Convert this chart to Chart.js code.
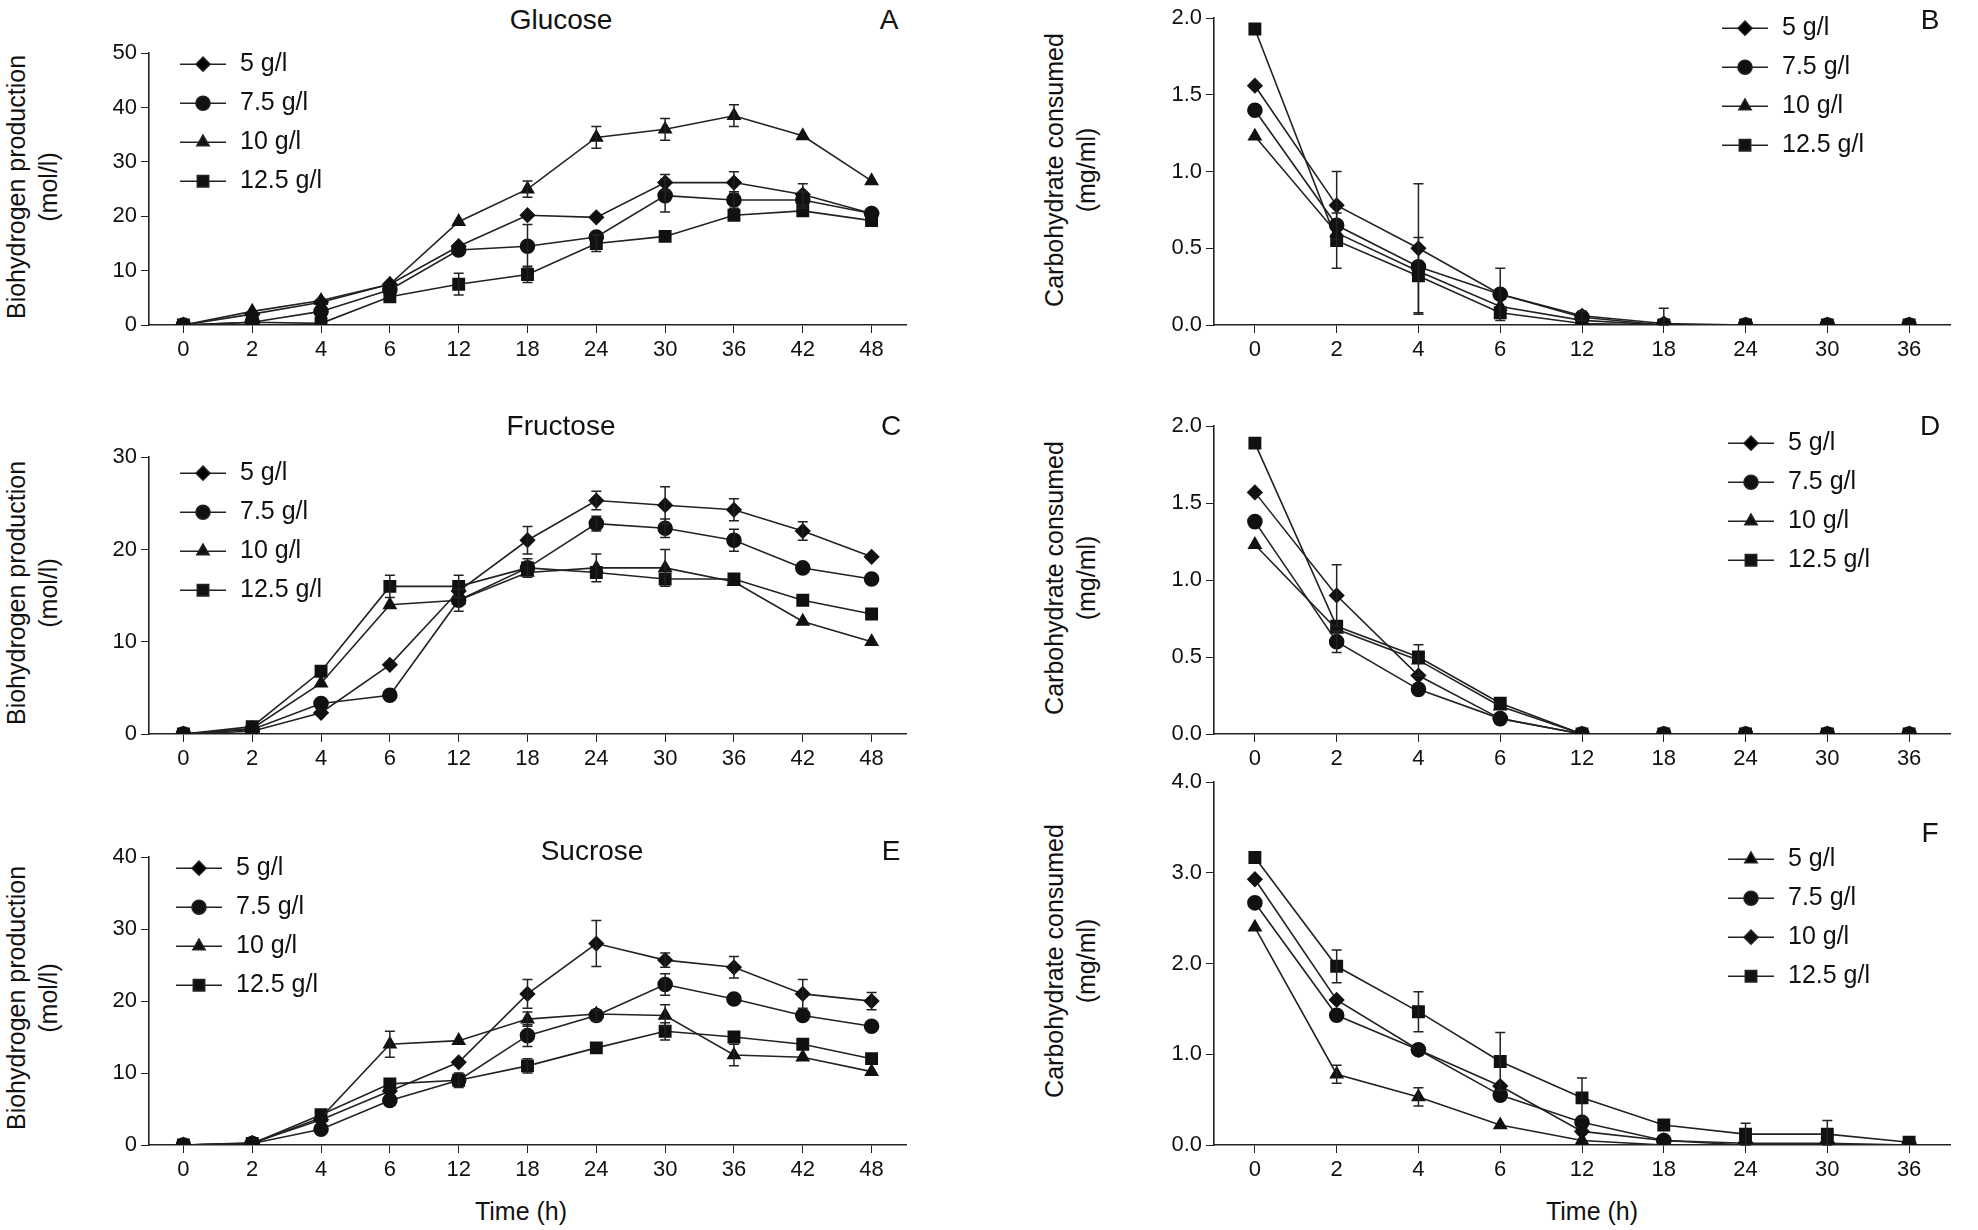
<!DOCTYPE html>
<html><head><meta charset="utf-8">
<script src="https://cdn.jsdelivr.net/npm/chart.js@4/dist/chart.umd.min.js"></script>
<style>
body{margin:0;background:#fff;width:1978px;height:1230px;position:relative;overflow:hidden;font-family:"Liberation Sans",Arial,sans-serif;color:#111}
canvas{position:absolute}
.t{position:absolute;font-size:28px;transform:translate(-50%,-50%);white-space:nowrap}
.yt{position:absolute;font-size:25px;transform:translate(-50%,-50%) rotate(-90deg);white-space:nowrap}
</style></head><body>
<script>
const hoursLong=['0','2','4','6','12','18','24','30','36','42','48'];
const hoursShort=['0','2','4','6','12','18','24','30','36'];
const seriesNames=['5 g/l','7.5 g/l','10 g/l','12.5 g/l'];
// A Glucose production
const A5=[0,2.0,4.2,7.5,14.5,20.2,19.8,26.2,26.2,24,20.5];
const A75=[0,0.5,2.5,6.5,13.8,14.5,16.2,23.8,23,23,20.5];
const A10=[0,2.5,4.5,7.5,19,25,34.5,36,38.5,34.8,26.5];
const A125=[0,0.5,0.3,5.2,7.5,9.3,15,16.3,20.2,21,19.2];
const A5e=[0,0,0,0,0,0,0,1.5,2,2,0];
const A75e=[0,0,0,0,0,4,0,3,1.5,1.5,0];
const A10e=[0,0,0,0,0,1.5,2,2,2,0,0];
const A125e=[0,0,0,0,2,1.5,1.5,0,0,0,0];
// B Glucose consumption
const B5=[1.56,0.78,0.5,0.2,0.06,0.01,0,0,0];
const B75=[1.4,0.65,0.38,0.2,0.05,0,0,0,0];
const B10=[1.23,0.6,0.35,0.12,0.03,0,0,0,0];
const B125=[1.93,0.55,0.32,0.08,0.01,0,0,0,0];
const B5e=[0,0.22,0.42,0.17,0.03,0.1,0,0,0];
const B125e=[0,0.18,0.25,0,0,0,0,0,0];
// C Fructose production
const C5=[0,0.3,2.3,7.5,15.5,21,25.3,24.8,24.3,22,19.2];
const C75=[0,0.5,3.3,4.2,14.5,18,22.8,22.3,21,18,16.8];
const C10=[0,0.6,5.5,14,14.5,17.5,18,18,16.5,12.2,10];
const C125=[0,0.8,6.8,16,16,18,17.5,16.8,16.8,14.5,13];
const C5e=[0,0,0,0,0,1.5,1,2,1.2,1,0];
const C75e=[0,0,0,0,1.2,0,0.8,1,1.2,0,0];
const C10e=[0,0,0,0,0,0,1.5,2,0,0,0];
const C125e=[0,0,0,1.2,1.2,1,0,0,0,0,0];
// D Fructose consumption
const D5=[1.57,0.9,0.38,0.1,0,0,0,0,0];
const D75=[1.38,0.6,0.29,0.1,0,0,0,0,0];
const D10=[1.23,0.68,0.48,0.18,0,0,0,0,0];
const D125=[1.89,0.7,0.5,0.2,0,0,0,0,0];
const D5e=[0,0.2,0,0,0,0,0,0,0];
const D75e=[0,0.07,0,0,0,0,0,0,0];
const D10e=[0,0,0.1,0,0,0,0,0,0];
// E Sucrose production
const E5=[0,0.3,3.5,7.5,11.5,21,28,25.7,24.7,21,20];
const E75=[0,0.2,2.2,6.2,9,15.2,18,22.3,20.3,18,16.5];
const E10=[0,0.2,3.8,14,14.5,17.5,18.2,18,12.5,12.2,10.2];
const E125=[0,0.2,4.2,8.5,9,11,13.5,15.8,15,14,12];
const E5e=[0,0,0,0,0,2,3.2,1,1.5,2,1.2];
const E75e=[0,0,0,0,0,1.5,0.8,1.5,0,0,0];
const E10e=[0,0,0,1.8,0,1,0,1.5,1.5,0,0];
const E125e=[0,0,0,0,1,1,0,1.2,0,0,0];
// F Sucrose consumption
const F5=[2.4,0.78,0.53,0.22,0.05,0,0,0,0];
const F75=[2.67,1.43,1.05,0.55,0.25,0.05,0,0,0];
const F10=[2.93,1.6,1.05,0.65,0.15,0.05,0.02,0.02,0];
const F125=[3.17,1.97,1.47,0.92,0.52,0.22,0.12,0.12,0.03];
const F5e=[0,0.1,0.1,0,0,0,0,0,0];
const F125e=[0,0.18,0.22,0.32,0.22,0,0.12,0.15,0];
const Z=null;

const errPlugin={id:'err',afterDatasetsDraw(c){const ctx=c.ctx;ctx.save();ctx.strokeStyle='#222';ctx.lineWidth=1.5;
c.data.datasets.forEach((ds,i)=>{if(!ds.err)return;const m=c.getDatasetMeta(i);const ys=c.scales.y;
ds.err.forEach((e,j)=>{if(!e)return;const p=m.data[j];const y1=ys.getPixelForValue(ds.data[j]+e),y2=ys.getPixelForValue(Math.max(0,ds.data[j]-e));
ctx.beginPath();ctx.moveTo(p.x,y1);ctx.lineTo(p.x,y2);ctx.moveTo(p.x-5,y1);ctx.lineTo(p.x+5,y1);ctx.moveTo(p.x-5,y2);ctx.lineTo(p.x+5,y2);ctx.stroke();});});ctx.restore();}};
const legPlugin={id:'leg',afterDraw(c,a,o){const ctx=c.ctx;const ca=c.chartArea;ctx.save();
c.data.datasets.forEach((ds,i)=>{const x=ca.left+o.x,y=ca.top+o.y+i*39;ctx.strokeStyle='#222';ctx.lineWidth=1.6;
ctx.beginPath();ctx.moveTo(x,y);ctx.lineTo(x+46,y);ctx.stroke();
Chart.helpers.drawPoint(ctx,{pointStyle:ds.pointStyle,radius:ds.pointRadius,rotation:0,borderWidth:1},x+23,y);
ctx.fillStyle='#111';ctx.font='25px "Liberation Sans", Arial';ctx.textBaseline='middle';ctx.fillText(ds.label,x+60,y);});ctx.restore();}};

const styles=['rectRot','circle','triangle','rect'];
function mk(id,box,labels,vals,errs,ymax,step,dec,leg,order){
  const cv=document.createElement('canvas');cv.id=id;
  const left=box.L-55,top=box.T-12,w=box.R-left+12,h=box.B-top+40;
  cv.style.left=left+'px';cv.style.top=top+'px';cv.style.width=w+'px';cv.style.height=h+'px';
  cv.width=w;cv.height=h;document.body.appendChild(cv);
  const st=order||styles;
  new Chart(cv,{type:'line',plugins:[errPlugin,legPlugin],data:{labels,datasets:vals.map((v,i)=>({label:seriesNames[i],data:v,err:errs[i],
    borderColor:'#222',backgroundColor:'#111',pointBackgroundColor:'#111',pointBorderColor:'#111',borderWidth:1.6,
    pointStyle:st[i],pointRadius:st[i]==='rectRot'?7:st[i]==='rect'?8:7,tension:0}))},
   options:{responsive:false,animation:false,layout:{padding:{top:12,right:12,left:0,bottom:0}},
    plugins:{legend:{display:false},tooltip:{enabled:false},leg:leg},
    scales:{x:{offset:true,grid:{offset:false,drawOnChartArea:false,drawTicks:true,tickLength:8,color:'#222'},border:{color:'#222',width:1.6},
      ticks:{color:'#111',font:{size:22,family:'"Liberation Sans", Arial'},padding:4},afterFit(s){s.height=40;}},
     y:{min:0,max:ymax,grid:{drawOnChartArea:false,tickLength:8,color:'#222'},border:{color:'#222',width:1.6},
      ticks:{stepSize:step,color:'#111',font:{size:22,family:'"Liberation Sans", Arial'},padding:4,callback:v=>v.toFixed(dec)},afterFit(s){s.width=55;}}}}});
}
mk('a',{L:149,R:906,T:48,B:325},hoursLong,[A5,A75,A10,A125],[A5e,A75e,A10e,A125e],50,10,0,{x:31,y:11});
mk('b',{L:1214,R:1950,T:13,B:325},hoursShort,[B5,B75,B10,B125],[B5e,Z,Z,B125e],2.0,0.5,1,{x:508,y:10});
mk('c',{L:149,R:906,T:452,B:734},hoursLong,[C5,C75,C10,C125],[C5e,C75e,C10e,C125e],30,10,0,{x:31,y:16});
mk('d',{L:1214,R:1950,T:421,B:734},hoursShort,[D5,D75,D10,D125],[D5e,D75e,D10e,Z],2.0,0.5,1,{x:514,y:17});
mk('e',{L:149,R:906,T:852,B:1145},hoursLong,[E5,E75,E10,E125],[E5e,E75e,E10e,E125e],40,10,0,{x:27,y:11});
mk('f',{L:1214,R:1950,T:777,B:1145},hoursShort,[F5,F75,F10,F125],[F5e,Z,Z,F125e],4.0,1.0,1,{x:514,y:77},['triangle','circle','rectRot','rect']);
const texts=[['Glucose',561,20],['A',889,20],['B',1930,20],['Fructose',561,426],['C',891,426],['D',1930,426],['Sucrose',592,851],['E',891,851],['F',1930,833],['Time (h)',521,1211],['Time (h)',1592,1211]];
texts.forEach(([s,x,y])=>{const d=document.createElement('div');d.className='t';d.textContent=s;d.style.left=x+'px';d.style.top=y+'px';if(s==='Time (h)')d.style.fontSize='25px';document.body.appendChild(d);});
const yts=[['Biohydrogen production',16,187],['(mol/l)',48,187],['Carbohydrate consumed',1054,170],['(mg/ml)',1086,170],
['Biohydrogen production',16,593],['(mol/l)',48,593],['Carbohydrate consumed',1054,578],['(mg/ml)',1086,578],
['Biohydrogen production',16,998],['(mol/l)',48,998],['Carbohydrate consumed',1054,961],['(mg/ml)',1086,961]];
yts.forEach(([s,x,y])=>{const d=document.createElement('div');d.className='yt';d.textContent=s;d.style.left=x+'px';d.style.top=y+'px';document.body.appendChild(d);});
</script>
</body></html>
